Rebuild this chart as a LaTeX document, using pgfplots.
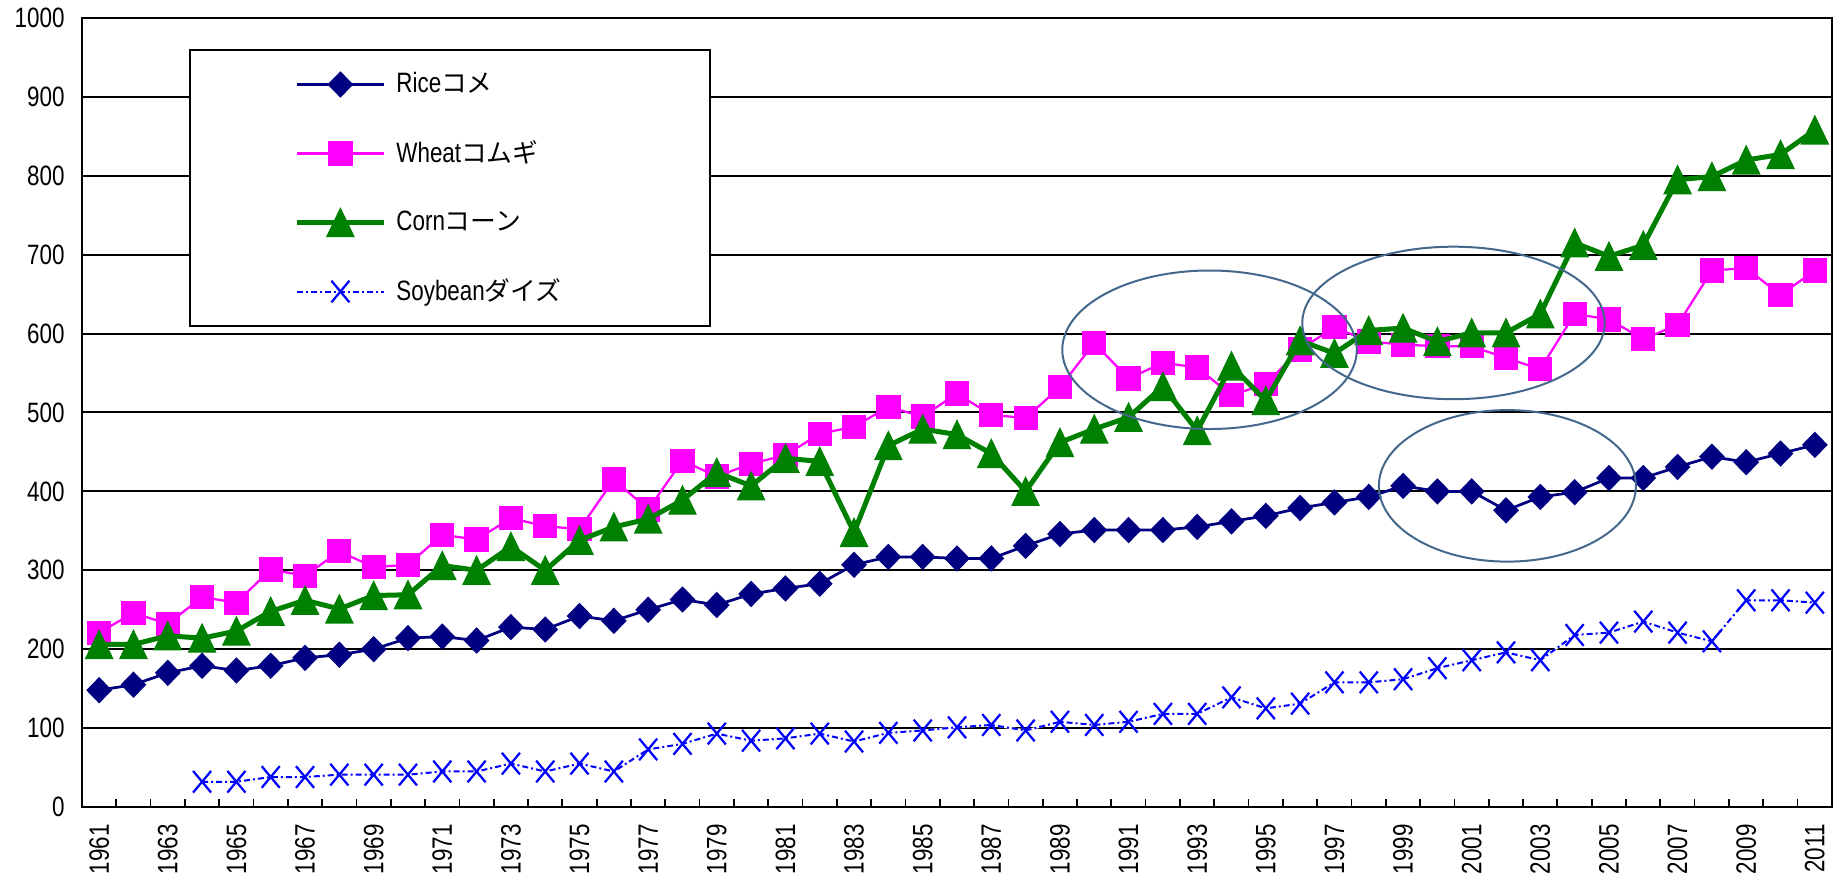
\documentclass[border=0pt]{standalone}
\usepackage{fontspec}
\setmainfont{Liberation Sans}[FakeStretch=0.8]
\newfontfamily\jp{Noto Sans CJK JP}[Scale=0.92]
\usepackage{pgfplots}
\usepackage{pgfplotstable}
\pgfplotsset{compat=1.18}

\definecolor{rice}{RGB}{0,0,128}
\definecolor{wheat}{RGB}{255,0,255}
\definecolor{corn}{RGB}{0,128,0}
\definecolor{soy}{RGB}{0,0,255}
\definecolor{ring}{RGB}{68,103,140}

\pgfplotstableread{
year rice wheat corn
1961 148 221 206
1962 155 246 206
1963 170 232 217
1964 179 266 214
1965 173 259 223
1966 179 301 248
1967 189 293 262
1968 193 324 251
1969 200 304 268
1970 214 307 269
1971 216 345 306
1972 211 339 300
1973 228 366 330
1974 225 356 300
1975 242 352 338
1976 236 415 355
1977 250 377 365
1978 263 439 389
1979 256 419 424
1980 270 435 407
1981 277 446 442
1982 283 473 438
1983 307 482 348
1984 317 507 458
1985 317 495 479
1986 315 524 472
1987 315 497 448
1988 331 493 400
1989 346 532 462
1990 351 588 479
1991 351 543 494
1992 351 563 533
1993 355 557 477
1994 362 522 559
1995 369 536 515
1996 379 580 591
1997 386 608 575
1998 393 590 604
1999 407 586 607
2000 400 584 590
2001 400 584 601
2002 376 569 601
2003 393 555 625
2004 399 625 715
2005 417 618 698
2006 417 593 712
2007 431 611 795
2008 444 680 799
2009 437 683 820
2010 448 649 827
2011 459 680 858
}\grains

\pgfplotstableread{
year soy
1964 32
1965 32
1966 38
1967 38
1968 41
1969 41
1970 41
1971 45
1972 45
1973 55
1974 45
1975 55
1976 45
1977 73
1978 80
1979 93
1980 84
1981 87
1982 93
1983 83
1984 94
1985 97
1986 101
1987 104
1988 97
1989 108
1990 104
1991 108
1992 118
1993 118
1994 139
1995 125
1996 131
1997 158
1998 158
1999 162
2000 176
2001 186
2002 196
2003 186
2004 218
2005 221
2006 235
2007 221
2008 210
2009 262
2010 262
2011 259
}\soybean

\begin{document}
\begin{tikzpicture}
\begin{axis}[
    at={(0pt,0pt)}, anchor=south west,
    scale only axis,
    width=700pt, height=315.6pt,
    xmin=1960.5, xmax=2011.5,
    ymin=0, ymax=1000,
    ytick={0,100,...,1000},
    xtick={1961,1963,...,2011},
    minor xtick={1960.5,1961.5,...,2011.5},
    major tick length=0pt, minor tick length=3pt,
    tick align=inside,
    xtick pos=bottom, ytick pos=left,
    ymajorgrids,
    major grid style={black,line width=0.8pt},
    axis line style={black,line width=1pt},
    tick style={black,line width=0.7pt},
    /pgf/number format/assume math mode=true,
    /pgf/number format/1000 sep={},
    tick label style={font=\fontsize{11.2}{13}\selectfont},
    xticklabel style={rotate=90,anchor=east,inner sep=0pt},
    yticklabel style={anchor=east,inner sep=0pt},
    xticklabel shift=6.8pt, yticklabel shift=6.8pt,
    clip mode=individual,
    legend cell align=left,
    legend image code/.code={
        \path[draw=none,fill=none] (-42.8pt,0pt) -- (0pt,0pt);
        \draw[mark repeat=2,mark phase=2,#1] plot coordinates {(0pt,0pt) (17.4pt,0pt) (34.8pt,0pt)};
    },
    legend style={
        at={(0.0611,0.9607)}, anchor=north west,
        draw=black, line width=0.8pt, fill=white,
        inner xsep=0pt, inner ysep=0pt,
        row sep=0pt, column sep=4pt,
        font=\fontsize{11.2}{13}\selectfont,
        nodes={inner sep=0pt, minimum height=27.6pt},
    },
]
\addplot[rice, line width=1.1pt, mark=diamond*, mark size=4.5pt,
    mark options={solid, xscale=1.3, fill=rice, draw=rice}]
    table[x=year, y=rice] {\grains};
\addlegendentry{\makebox[125.6pt][l]{Rice{\jp コメ}}}

\addplot[wheat, line width=0.9pt, mark=square*, mark size=4.4pt,
    mark options={solid, fill=wheat, draw=wheat}]
    table[x=year, y=wheat] {\grains};
\addlegendentry{\makebox[125.6pt][l]{Wheat{\jp コムギ}}}

\addplot[corn, line width=2pt, mark=triangle*, mark size=6.2pt,
    mark options={solid, yshift=-1.86pt, yscale=1.2, fill=corn, draw=corn, line width=0.5pt}]
    table[x=year, y=corn] {\grains};
\addlegendentry{\makebox[125.6pt][l]{Corn{\jp コーン}}}

\addplot[white, line width=0.8pt, forget plot] table[x=year, y=soy] {\soybean};
\addplot[soy, line width=0.8pt, dash pattern=on 2.4pt off 1.2pt on 0.8pt off 1.2pt,
    mark=x, mark size=5.1pt,
    mark options={solid, yscale=1.2, draw=soy, line width=0.9pt}]
    table[x=year, y=soy] {\soybean};
\addlegendentry{\makebox[125.6pt][l]{Soybean{\jp ダイズ}}}

\draw[ring, line width=0.8pt] (axis cs:1993.36,579.5) ellipse [x radius=58.9pt, y radius=31.7pt];
\draw[ring, line width=0.8pt] (axis cs:2000.47,613.5) ellipse [x radius=60.5pt, y radius=30.5pt];
\draw[ring, line width=0.8pt] (axis cs:2002.04,407) ellipse [x radius=51.4pt, y radius=30.3pt];
\end{axis}
\pgfresetboundingbox
\path[use as bounding box] (-32.8pt,-30.4pt) rectangle (706pt,322.8pt);
\end{tikzpicture}
\end{document}
